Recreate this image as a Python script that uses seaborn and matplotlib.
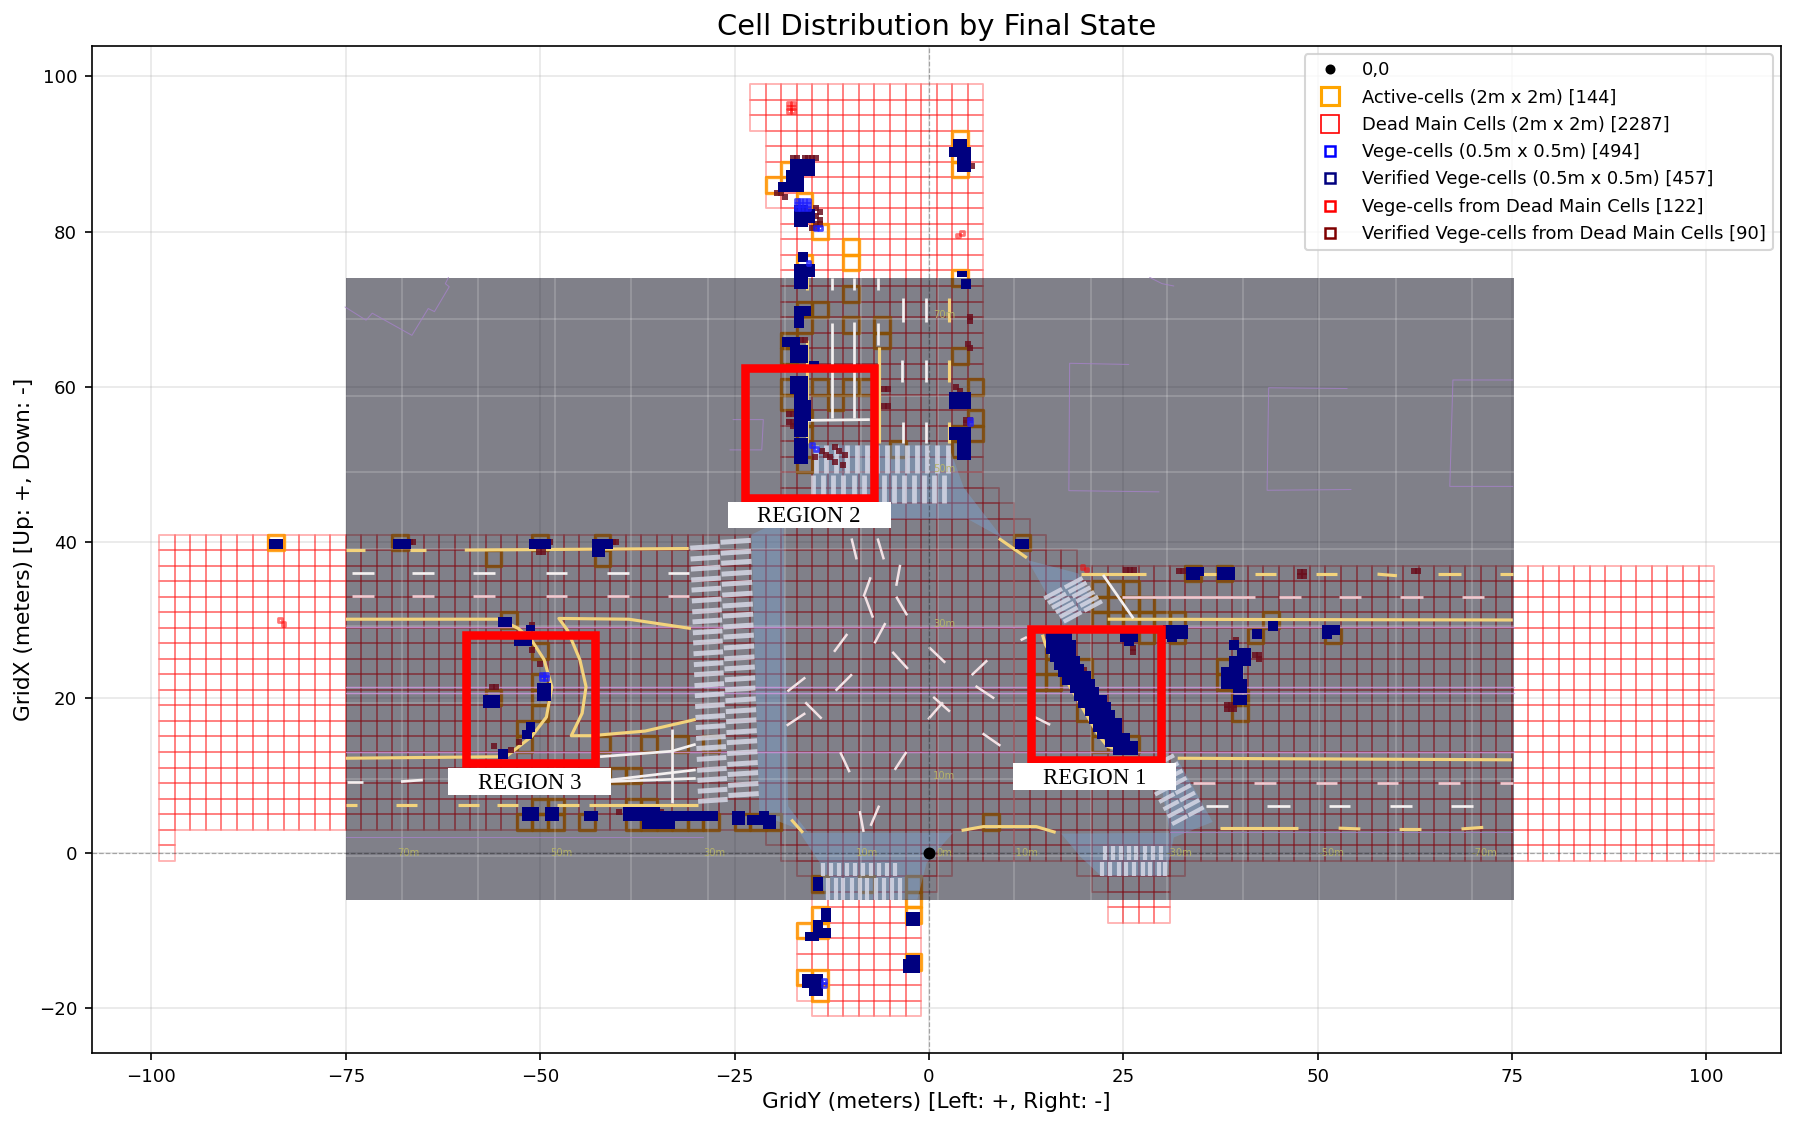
import numpy as np
import matplotlib
matplotlib.use("Agg")
import matplotlib.pyplot as plt
from matplotlib.patches import Rectangle, Polygon
from matplotlib.collections import PatchCollection
from matplotlib.lines import Line2D
import seaborn as sns

# ---------- legend / counts ----------
legend_labels = ["0,0", "Active-cells (2m x 2m) [144]", "Dead Main Cells (2m x 2m) [2287]",
                 "Vege-cells (0.5m x 0.5m) [494]", "Verified Vege-cells (0.5m x 0.5m) [457]",
                 "Vege-cells from Dead Main Cells [122]", "Verified Vege-cells from Dead Main Cells [90]"]

# ---------- dead main cells: blocks of 2 m cells (x0, x1, y0, y1) ----------
dead_blocks = [(-23, 7, 93, 99), (-21, 7, 83, 93), (-19, 7, 47, 83), (-19, 9, 45, 47), (-19, 11, 43, 45),
               (-19, 13, 41, 43), (-99, 15, 39, 41), (-99, 19, 37, 39), (-99, 101, 3, 37), (-21, 101, 1, 3),
               (-99, -97, -1, 3), (-19, 101, -1, 1), (-17, 3, -3, -1), (19, 33, -3, -1), (-15, 1, -5, -3),
               (21, 31, -5, -3), (23, 31, -9, -5), (-15, -1, -9, -5), (-17, -1, -19, -9), (-15, -1, -21, -19)]

# ---------- active cells: lower-left corner ----------
active_x = [3, 3, 3, -21, -19, -17, -15, -11, -11, -17, 3, -11, -17, -15, -17, -11, -7, -7, -19, -19, 3, -19, -19, -15,
            -13, -11, -9, 5, 5, 5, 3, 3, -17, -17, -5, -17, -85, -69, -51, -43, -43, -57, -55, -51, -51, -51, -51, -57,
            -53, -53, -43, -37, -33, -29, -41, -39, -51, -49, -53, -51, -49, -45, -39, -37, -39, -37, -35, -33, -31, -29,
            -25, -23, -21, 11, 33, 37, 21, 23, 25, 21, 25, 27, 21, 23, 25, 27, 29, 31, 43, 41, 31, 51, 27, 15, 15, 13, 15,
            19, 19, 37, 37, 39, 39, 19, 21, 21, 25, -15, -9, -3, -3, -3, -15, -17, -15, -3, -17, -15, -15, 7]
active_y = [91, 89, 87, 85, 87, 83, 79, 77, 75, 75, 73, 71, 69, 69, 67, 67, 67, 65, 65, 63, 63, 59, 57, 59,
            57, 59, 59, 59, 55, 53, 53, 51, 53, 49, 51, 55, 39, 39, 39, 39, 37, 37, 29, 25, 21, 19, 17, 19,
            15, 13, 13, 13, 13, 13, 9, 9, 5, 5, 3, 3, 3, 3, 5, 5, 3, 3, 3, 3, 3, 3,
            3, 3, 3, 39, 35, 35, 33, 33, 33, 31, 31, 31, 29, 29, 29, 29, 29, 29, 29, 27, 27, 27, 27, 25, 23, 21, 21,
            21, 23, 21, 23, 19, 17, 17, 15, 13, 13, -5, -5, -5, -7, -9, -9, -11, -11, -15, -17, -17, -19, 3]

# ---------- verified vege cells: filled patches of 0.5 m cells (x0, x1, y0, y1) ----------
verified_patches = [
    (3.5, 4.5, 91, 91.5), (3, 5, 90, 90.5), (4, 5, 88, 90), (-17.5, -15, 87.5, 89), (-18, -16.5, 85.5, 87.5), (-19, -18.5, 85.5, 86),
    (-17, -16, 81, 83), (-15.5, -15, 81.5, 82.5), (-16.5, -16, 76.5, 77), (-17, -15, 74.5, 75.5), (-17, -16, 73, 74),
    (-17, -15.5, 69.5, 70), (-17, -16.5, 68, 69), (-18.5, -17, 65.5, 66), (-17.5, -16, 63.5, 65), (-15, -14.5, 63, 63),
    (-17.5, -16, 59.5, 61), (-17, -16, 54, 59), (-15.5, -15.5, 56, 58), (-17, -16, 50.5, 53), (4, 4.5, 74.5, 74.5), (4.5, 5, 73, 73.5),
    (3, 5, 57.5, 59), (3, 5, 53.5, 54.5), (4, 5, 51, 53),
    (-84.5, -83.5, 39.5, 40), (-68.5, -67, 39.5, 40), (-51, -49, 39.5, 40), (-43, -41, 39.5, 40), (-43, -42, 38.5, 39),
    (-55, -54, 29.5, 30), (-51.5, -51, 29, 29), (-53, -51.5, 27, 27.5), (-50, -49, 20, 21.5), (-57, -55.5, 19, 20),
    (-51.5, -51, 16, 16.5), (-52, -51.5, 15, 15.5), (-55, -54.5, 12.5, 13),
    (-52, -50.5, 4.5, 5.5), (-49, -48, 4.5, 5.5), (-44, -43, 4.5, 5), (-39, -35, 4.5, 5.5), (-36.5, -33, 3.5, 4.5), (-34.5, -27.5, 4.5, 5),
    (-25, -24, 4, 5), (-23, -20.5, 4, 4.5), (-21.5, -21, 5, 5), (-21, -20, 3.5, 4.5),
    (30.5, 33, 28, 29), (31, 31.5, 27.5, 27.5), (33.5, 35, 36, 36.5), (33.5, 34.5, 35.5, 35.5), (37.5, 39, 35.5, 36.5),
    (44, 44.5, 29, 29.5), (42, 42.5, 28, 28.5), (51, 52.5, 28.5, 29), (51, 51.5, 28, 28.5),
    (39, 39.5, 26.5, 27), (40, 41, 24.5, 26), (39, 40, 24, 25), (38, 40, 21.5, 23.5), (39.5, 40.5, 21, 22), (39.5, 40.5, 19.5, 20),
    (25, 26.5, 27.5, 28), (25.5, 26, 27, 27.5),
    (15.5, 18, 27, 28.5), (15.5, 18.5, 26, 27), (16, 18.5, 25, 26), (16.5, 19, 24, 25), (17, 19.5, 23, 24), (17.5, 20.5, 22, 23), (18.5, 21, 21, 22),
    (19, 21.5, 20, 21), (19.5, 22.5, 19, 20), (20.5, 23, 18, 19), (21, 23.5, 17, 18), (21.5, 24.5, 16, 17), (22, 24.5, 15, 16), (23, 25.5, 14, 15), (24, 26.5, 13, 14),
    (11.5, 12.5, 39.5, 40), (-14.5, -14, -4.5, -3.5), (-13.5, -13, -8.5, -7.5), (-14.5, -14, -9.5, -9), (-14.5, -13, -10.5, -10),
    (-15.5, -14.5, -11, -10.5), (-2.5, -1.5, -9, -8), (-3, -1.5, -15, -14), (-2.5, -1.5, -13.5, -13.5), (-16, -14, -17, -16), (-15, -14, -18, -17.5)]

# unverified vege cells (blue)
vege_x = [-17, -16.5, -16, -15.5, -17, -16.5, -16, -15.5, -17, -16.5, -16, -15.5, -14.5, -14, -15.5, 5.25, 5.25, -13.5, -13.5,
          -49.75, -49.25, -49.75, -49.25, -15, -14.5]
vege_y = [84, 84, 84, 84, 83.5, 83.5, 83.5, 83.5, 83, 83, 83, 83, 80.5, 80.5, 76, 55.8, 55.3, -16.5, -17, 23, 23, 22.5, 22.5, 52.5, 52]

# vege cells from dead main cells (red)
deadvege_x = [-18, -17.5, -18, -17.5, -18, -17.5, 3.75, 4.25, -83.5, -83, 19.75, 20.25]
deadvege_y = [96.5, 96.5, 96, 96, 95.5, 95.5, 79.5, 79.8, 30, 29.5, 36.8, 36.5]

# verified vege cells from dead main cells (maroon)
maroon_x = [-17.5, -17, -16, -15.5, -15, -14.5, -19.5, -19, -18.5, -14.5, -14, -14.5, -14, -14.5, -14, -15, -14.5, 5, 5.5, 5.25, 5.25, 5, 5.25,
            -16.5, -16, -18, -17.5, -17, -18, -17.5, -17.5, -17, -5.75, -5.25, -5.75, -5.25, 3.5, 4, 4.75, 5.25, 4.75,
            -13.8, -12.1, -12.7, -10.8, -14.7, -11, -12.1, -13.2, -11.6,
            -49.25, -48.75, -66.8, -66.3, -40.6, -40.2, -50.1, -49.6, -51, -51, -50, -56.2, -55.7, -52.7, -56, -53.7, -51.3, -39.8, -24.7, -34.4,
            25.4, 25.9, 26.4, 32.2, 32.7, 47.7, 48.2, 47.7, 48.2, 62.4, 62.9, 26.3, 26.3, 39.5, 42, 42.5, 42.5, 38.3, 38.8, 39.3, 38.3, 38.8, 39.3, 20, 23.6]
maroon_y = [89.5, 89.5, 89.5, 89.5, 89.5, 89.5, 85, 85, 84.5, 83, 82.5, 82, 81.5, 81, 81, 80.5, 80.5, 89, 88.5, 69, 68.5, 65.5, 65,
            66, 66, 56.5, 56.5, 56, 55.5, 55.5, 55, 55, 59.7, 59.7, 57.5, 57.5, 60, 59.5, 55.8, 55.8, 55.3,
            51.7, 52.3, 51, 51.2, 51, 50, 50.4, 51.3, 51.7,
            40, 40, 40, 40, 40, 40, 38.7, 38.7, 29.4, 26.1, 24.3, 21.4, 21.4, 14.3, 13.8, 13.3, 5.3, 5.3, 4.5, 5.3,
            36.4, 36.4, 36.4, 36.3, 36.3, 36.2, 36.2, 35.7, 35.7, 36.3, 36.3, 26.4, 25.9, 27.4, 25.5, 25.5, 25, 19, 19, 19, 18.5, 18.5, 18.5, 23.6, 17.5]

# ---------- map overlay ----------
map_extent = (-75, 75.3, -6, 74)
map_grid_x = [-67.8, -58, -48.1, -38.3, -28.4, -18.5, -8.7, 1.15, 11, 20.8, 30.6, 40.4, 50.2, 60.1, 69.9]
map_grid_y = [68.8, 58.9, 49, 39.1, 29.2, 19.3, 9.5, -0.4]
road_polys = [
    [(-22.8, 41), (-18.7, 43), (-18.1, 6), (-15.5, 2.6), (-21.8, 5)],
    [(-16.6, 2.6), (3.1, 2.6), (-0.3, -1.3), (-1.5, -6), (-13.3, -6), (-14, -1.3)],
    [(-14.5, 52.5), (2.5, 52.5), (4.5, 47), (9.5, 40.5), (5, 43), (-18, 43), (-15, 45)],
    [(12.7, 37.7), (19.2, 36), (21.2, 31.9), (17.4, 29.3), (15.3, 33.1)],
    [(32, 12), (36.5, 4), (31.5, 2), (30.5, -3), (22.2, -3), (19.5, -0.5), (17, 2.5), (31, 2.6), (30, 8)],
]
purple_long_y = [29.1, 21.4, 20.6, 13]
purple_paths = [
    [(25.7, 62.9), (18.1, 63.05), (18, 46.65), (29.6, 46.5)],
    [(53.8, 59.8), (43.7, 59.9), (43.5, 46.7), (54.3, 46.8)],
    [(75.1, 60.9), (67.4, 60.9), (67, 47.2), (75.1, 47.2)],
    [(28.4, 74.1), (30, 73.3), (31.5, 73)],
    [(-75.1, 70.3), (-72.4, 68.6), (-71.6, 69.5), (-66.5, 66.65), (-64.4, 70.1), (-63.6, 69.7), (-61.7, 72.9), (-62.2, 73.3), (-61.8, 74.1)],
    [(-25.2, 55.8), (-21.3, 55.8), (-21.5, 51.9), (-25.6, 51.9)],
    [(-75, 2.1), (-29, 2.1)], [(31, 2.7), (75, 2.7)],
]
yellow_paths = [
    [(-75, 39), (-72.5, 39)], [(-66.8, 39), (-64.7, 39)], [(-59.7, 39), (-30.9, 39.2)],
    [(-75, 30.1), (-55.2, 30.1), (-52.8, 28.9), (-51.1, 27.4), (-49.5, 24.9), (-48.5, 21.4), (-49.2, 17.5), (-51.1, 15), (-54.4, 12.4), (-75, 12.2)],
    [(-30.6, 28.9), (-38.6, 30.1), (-47.6, 30.2), (-46.5, 28.7), (-44.9, 24.9), (-44.1, 21.4), (-44.6, 18), (-46, 15.1), (-43.5, 15.1), (-36.5, 15.7), (-30, 17.2)],
    [(-75, 6.2), (-73.6, 6.2)], [(-68.6, 6.2), (-65.8, 6.2)], [(-60.6, 6.2), (-57.9, 6.2)], [(-55.6, 6.2), (-52.9, 6.2)],
    [(-47.9, 6.2), (-45, 6.2)], [(-43.7, 6.2), (-29.7, 6.2)],
    [(19.6, 35.9), (27.9, 35.9)], [(34.5, 35.9), (36.9, 35.9)], [(41.9, 35.9), (44.7, 35.9)], [(49.8, 35.9), (52.5, 35.9)],
    [(57.7, 35.9), (60.2, 35.7)], [(65.5, 35.9), (68.4, 35.9)], [(73.4, 35.9), (75.1, 35.9)],
    [(23, 30.1), (75.1, 30)], [(32, 12.2), (75, 12)],
    [(37.4, 3.2), (47.5, 3.2)], [(52.7, 3.2), (55.5, 3.1)], [(60.5, 3.1), (63.3, 3.1)], [(68.5, 3.1), (71.3, 3.3)],
    [(4.2, 2.9), (7, 3.4), (13.8, 3.4), (16.3, 2.65)],
    [(14.6, 28.1), (15, 26.8), (21.8, 15.2), (23, 13.7), (26, 12.9)],
    [(9, 40.5), (12.6, 38)], [(-17.7, 4.3), (-16.2, 2.6)],
    [(-15.7, 66), (-15.7, 52.8)], [(-15.7, 74), (-15.7, 72.5)], [(-6.4, 65.2), (-6.4, 52.8)],
    [(2.6, 71.4), (2.6, 68.4)], [(2.6, 63.5), (2.6, 60.7)], [(2.6, 55.5), (2.6, 52.8)],
]
white_paths = [
    [(-74.2, 36.1), (-71.4, 36.1)], [(-66.5, 36.1), (-63.6, 36.1)], [(-58.6, 36.1), (-55.8, 36.1)], [(-49.2, 36.1), (-46.5, 36.1)],
    [(-41.4, 36.1), (-38.6, 36.1)], [(-33.5, 36.1), (-30.8, 36.1)],
    [(-42.3, 12.4), (-33.1, 13.1), (-30, 14)], [(-33.1, 16), (-33.1, 6.4)], [(-41, 9.4), (-30, 10.7)], [(-41, 9.2), (-30, 9.6)],
    [(-74.9, 9.2), (-72.8, 9.2)], [(-67.9, 9.2), (-65.1, 9.4)],
    [(22.4, 35.8), (26.3, 30.2)],
    [(35.7, 6.1), (38.5, 6.1)], [(43.5, 6.1), (46.5, 6.1)], [(51.4, 6.1), (54.2, 6.1)], [(59.3, 6.1), (62.2, 6.1)], [(67.2, 6.1), (70, 6.1)],
    [(-12.5, 74), (-12.5, 72.5)], [(-9.6, 74), (-9.6, 72.5)], [(-6.5, 74), (-6.5, 72.5)],
    [(-12.5, 68.2), (-12.5, 56)], [(-9.6, 68.4), (-9.6, 56)], [(-6.5, 68.2), (-6.5, 65.4)], [(-15.6, 55.7), (-7.6, 55.8)],
    [(-3.3, 71.4), (-3.3, 68.4)], [(-0.4, 71.4), (-0.4, 68.4)], [(-3.4, 63.5), (-3.4, 60.7)], [(-0.4, 63.5), (-0.4, 60.7)],
    [(-3.3, 55.5), (-3.3, 52.8)], [(-0.4, 55.5), (-0.4, 52.8)],
]
pink_paths = [
    [(-74.2, 33.1), (-71.4, 33.1)], [(-66.5, 33.1), (-63.6, 33.1)], [(-58.6, 33.1), (-55.8, 33.1)], [(-49.2, 33.1), (-46.5, 33.1)],
    [(-41.4, 33.1), (-38.6, 33.1)], [(-33.5, 33.1), (-30.8, 33.1)],
    [(24.8, 32.9), (41.9, 32.9)], [(45, 32.9), (47.9, 32.9)], [(52.8, 32.9), (55.6, 32.9)], [(60.6, 32.9), (63.6, 32.9)], [(68.6, 32.9), (71.4, 32.9)],
    [(34, 9), (36.8, 9)], [(41.8, 9), (44.7, 9)], [(49.8, 9), (52.5, 9)], [(57.6, 9), (60.4, 9)], [(65.5, 9), (68.3, 9)], [(73.4, 9), (75.1, 9)],
]
junction_paths = [
    [(-9.95, 40.5), (-9.3, 37.8)], [(-6.6, 40.5), (-5.8, 37.8)], [(-3.7, 37.1), (-4.2, 34.4)], [(-7.5, 35.5), (-8.4, 33)], [(-8.2, 33), (-7.2, 30.3)],
    [(-4.2, 33), (-2.8, 30.6)], [(-5.6, 29.6), (-7, 27)], [(-10.5, 28.2), (-12.2, 25.9)], [(-4.7, 25.9), (-2.7, 23.7)], [(0, 26.5), (2.1, 24.5)],
    [(7.5, 24.8), (5.5, 22.9)], [(-9.9, 23), (-12, 20.9)], [(-15.9, 22.6), (-18.2, 20.8)], [(6, 21.5), (8.4, 19.9)], [(0.55, 20.1), (2.7, 18.2)],
    [(1.8, 19.4), (-0.1, 17.2)], [(-15.9, 19.4), (-13.8, 17.3)], [(-15.9, 18), (-18.3, 16.4)], [(13.6, 17.5), (15.6, 16.5)], [(6.9, 15.4), (9.2, 13.8)],
    [(-11.4, 12.97), (-10.2, 10.4)], [(-2.9, 13), (-4.4, 10.7)], [(-8.9, 5.4), (-8.4, 2.7)], [(-6.4, 6.1), (-7.5, 3.5)], [(11.8, 27.4), (12.6, 27.8)],
]
walk_top_upper = [-14.5, -13.2, -11.9, -10.6, -9.3, -8.0, -6.7, -5.4, -4.1, -2.8, -1.5, -0.2, 1.1, 2.4]
walk_top_lower = [-14.9, -13.6, -12.3, -11.0, -9.7, -8.4, -7.1, -5.8, -4.5, -3.2, -1.9, -0.6, 0.7, 2.0]
walk_left_y = [39.4, 38.0, 36.7, 35.3, 34.0, 32.6, 31.2, 29.9, 28.5, 27.2, 25.8, 24.4, 23.1, 21.7, 20.4, 19.0, 17.6, 16.3, 14.9, 13.6, 12.2, 10.8, 9.5, 8.1, 6.8]
walk_bot_upper = [-13.6, -12.6, -11.6, -10.5, -9.5, -8.5, -7.4, -6.4, -5.4, -4.3]
walk_bot_lower = [-13, -12, -11, -9.9, -8.9, -7.9, -6.8, -5.8, -4.8, -3.7]
walk_br_upper = [22.6, 23.7, 24.7, 25.7, 26.7, 27.8, 28.8, 29.9]
walk_br_lower = [22.2, 23.3, 24.4, 25.4, 26.4, 27.5, 28.5, 29.6, 30.4]
walk_ne = [(17.3, 34.1), (17.8, 33.5), (18.3, 32.9), (18.8, 32.3), (19.3, 31.7), (19.8, 31.1)]
walk_se = [(29.5, 11.5), (30.05, 10.5), (30.6, 9.55), (31.1, 8.6), (31.65, 7.65), (32.2, 6.7), (32.75, 5.75), (33.3, 4.8)]
map_text = ["70m", "50m", "30m", "10m", "0m", "-10m", "-30m", "-50m", "-70m", "70m", "50m", "30m", "10m"]
map_text_x = [-67, -47.3, -27.6, -7.9, 2, 12.4, 32.2, 51.8, 71.5, 2, 2, 2, 2]
map_text_y = [0, 0, 0, 0, 0, 0, 0, 0, 0, 69.3, 49.5, 29.5, 9.9]

# ---------- highlighted regions ----------
region_names = ["REGION 1", "REGION 2", "REGION 3"]
region_x = [(13.1, 29.8), (-23.7, -7), (-59.6, -42.9)]
region_y = [(12, 28.8), (45.7, 62.5), (11.6, 28.1)]
label_x = [(10.8, 31.8), (-25.9, -4.9), (-61.9, -40.9)]
label_y = [(8.1, 11.55), (41.9, 45.2), (7.5, 10.9)]

# ---------- figure ----------
sns.set_style("ticks", {"xtick.direction": "out", "ytick.direction": "out"})
plt.rcParams.update({"font.family": ["DejaVu Sans"], "axes.linewidth": 0.8, "xtick.major.size": 3.5, "ytick.major.size": 3.5,
                     "xtick.major.width": 0.8, "ytick.major.width": 0.8, "axes.edgecolor": "black",
                     "xtick.color": "black", "ytick.color": "black", "text.color": "black", "axes.labelcolor": "black"})
W, H, DPI = 1795, 1125, 150
fig = plt.figure(figsize=(W / DPI, H / DPI), dpi=DPI)
ax = fig.add_axes([91.6 / W, 1 - 1053 / H, (1781 - 91.6) / W, (1053 - 46) / H])
ax.set_xlim(-107.7, 109.6)
ax.set_ylim(-25.75, 103.9)
ax.set_xticks(range(-100, 101, 25))
ax.set_yticks(range(-20, 101, 20))
ax.tick_params(labelsize=8.7)
ax.grid(True, color="#b0b0b0", alpha=0.3, lw=0.8, zorder=0)
ax.set_axisbelow(True)

# dead and active cells
dead_rects = []
for x0, x1, y0, y1 in dead_blocks:
    for cx in range(x0, x1, 2):
        for cy in range(y0, y1, 2):
            dead_rects.append(Rectangle((cx, cy), 2, 2))
ax.add_collection(PatchCollection(dead_rects, facecolor="none", edgecolor=(1, 0, 0, 0.3), linewidth=0.9, zorder=2))
active_rects = [Rectangle((cx, cy), 2, 2) for cx, cy in zip(active_x, active_y)]
ax.add_collection(PatchCollection(active_rects, facecolor="none", edgecolor=(1, 0.6, 0, 0.85), linewidth=1.6, zorder=3))

# map overlay
mx0, mx1, my0, my1 = map_extent
ax.add_patch(Rectangle((mx0, my0), mx1 - mx0, my1 - my0, facecolor=(0, 0, 0.07), alpha=0.497, lw=0, zorder=4))
for p in road_polys:
    ax.add_patch(Polygon(p, closed=True, facecolor=(0.48, 0.65, 0.85), alpha=0.38, lw=0, zorder=4.1))
for gx in map_grid_x:
    ax.plot([gx, gx], [my0, my1], color="white", alpha=0.18, lw=0.9, zorder=4.2)
for gy in map_grid_y:
    ax.plot([mx0, mx1], [gy, gy], color="white", alpha=0.18, lw=0.9, zorder=4.2)
for gy in purple_long_y:
    ax.plot([mx0, mx1], [gy, gy], color="#d69ae6", alpha=0.75, lw=0.7, zorder=4.25)
for path in purple_paths:
    xs, ys = zip(*path)
    ax.plot(xs, ys, color="#a582c8", alpha=0.8, lw=0.5, zorder=4.25)

# crosswalks
BAR = {"color": "#d6d8e6", "alpha": 0.85, "solid_capstyle": "butt", "zorder": 4.3}
for bx in walk_top_upper:
    ax.plot([bx, bx], [48.9, 52.5], lw=2.3, **BAR)
for bx in walk_top_lower:
    ax.plot([bx, bx], [45, 48.7], lw=2.3, **BAR)
for by in walk_left_y:
    d = (39.4 - by) * 0.031
    ax.plot([-30.7 + d, -26.9 + d], [by - 0.15, by + 0.1], lw=2.4, **BAR)
    ax.plot([-26.8 + d, -22.9 + d], [by + 0.6, by + 0.85], lw=2.4, **BAR)
for bx in walk_bot_upper:
    ax.plot([bx, bx], [-3, -1.3], lw=2.0, **BAR)
for bx in walk_bot_lower:
    ax.plot([bx, bx], [-6, -3.2], lw=2.0, **BAR)
for bx in walk_br_upper:
    ax.plot([bx, bx], [-0.9, 0.95], lw=2.0, **BAR)
for bx in walk_br_lower:
    ax.plot([bx, bx], [-3, -1.1], lw=2.0, **BAR)
for cx, cy in walk_ne:
    for off in (-1.5, 1.5):
        ox, oy = cx + off * 0.88, cy + off * 0.47
        ax.plot([ox - 1.3 * 0.88, ox + 1.3 * 0.88], [oy - 1.3 * 0.47, oy + 1.3 * 0.47], lw=2.0, **BAR)
for cx, cy in walk_se:
    for off in (-1.2, 1.2):
        ox, oy = cx + off * 0.88, cy + off * 0.47
        ax.plot([ox - 1.1 * 0.88, ox + 1.1 * 0.88], [oy - 1.1 * 0.47, oy + 1.1 * 0.47], lw=2.0, **BAR)

for path in yellow_paths:
    xs, ys = zip(*path)
    ax.plot(xs, ys, color="#f3d37c", lw=1.5, solid_capstyle="butt", zorder=4.4)
for path in white_paths:
    xs, ys = zip(*path)
    ax.plot(xs, ys, color="#f4f0f0", lw=1.3, solid_capstyle="butt", zorder=4.4)
for path in pink_paths:
    xs, ys = zip(*path)
    ax.plot(xs, ys, color="#efc8cf", lw=1.3, solid_capstyle="butt", zorder=4.4)
for path in junction_paths:
    xs, ys = zip(*path)
    ax.plot(xs, ys, color="#f3e2e5", lw=1.2, solid_capstyle="butt", zorder=4.4)
for t, tx, ty in zip(map_text, map_text_x, map_text_y):
    ax.text(tx, ty, t, fontsize=4.8, color="#b5b36a", ha="center", va="center", zorder=4.4)

# axis lines through origin
ax.axhline(0, color="black", lw=0.6, ls="--", alpha=0.3, zorder=4.6)
ax.axvline(0, color="black", lw=0.6, ls="--", alpha=0.3, zorder=4.6)

# vege cells via seaborn
ver_x, ver_y = [], []
for x0, x1, y0, y1 in verified_patches:
    for vx in np.arange(x0, x1 + 0.01, 0.5):
        for vy in np.arange(y0, y1 + 0.01, 0.5):
            ver_x.append(vx)
            ver_y.append(vy)

HOLLOW = dict(marker="s", s=3.0, facecolor="none", linewidth=1.3, legend=False, ax=ax)
FILLED = dict(marker="s", s=10, linewidth=0, legend=False, ax=ax)
sns.scatterplot(x=deadvege_x, y=deadvege_y, edgecolor=(1, 0, 0, 0.55), zorder=5.0, **HOLLOW)
sns.scatterplot(x=maroon_x, y=maroon_y, color="#6a0f1e", alpha=0.85, zorder=5.2, **FILLED)
sns.scatterplot(x=ver_x, y=ver_y, color="#00007f", zorder=5.4, **FILLED)
sns.scatterplot(x=vege_x, y=vege_y, edgecolor=(0.12, 0.12, 1, 0.8), zorder=5.6, **HOLLOW)
sns.scatterplot(x=[0], y=[0], color="black", s=33, linewidth=0, legend=False, ax=ax, zorder=6)

# regions
for (x0, x1), (y0, y1) in zip(region_x, region_y):
    ax.add_patch(Rectangle((x0, y0), x1 - x0, y1 - y0, facecolor="none", edgecolor="#ff0000", lw=4.1, joinstyle="miter", zorder=7))
for name, (x0, x1), (y0, y1) in zip(region_names, label_x, label_y):
    ax.add_patch(Rectangle((x0, y0), x1 - x0, y1 - y0, facecolor="white", edgecolor="none", zorder=7.1))
    ax.text((x0 + x1) / 2, (y0 + y1) / 2 - 0.25, name, family="Liberation Serif", fontsize=11, ha="center", va="center", zorder=7.2)

ax.set_xlabel("GridY (meters) [Left: +, Right: -]", fontsize=10.4, labelpad=3)
ax.set_ylabel("GridX (meters) [Up: +, Down: -]", fontsize=10.4, labelpad=2)
ax.set_title("Cell Distribution by Final State", fontsize=13.85, pad=5.5)

handles = [
    Line2D([], [], ls="none", marker="o", ms=3.8, mfc="black", mec="black"),
    Line2D([], [], ls="none", marker="s", ms=8.5, mfc="none", mec="orange", mew=1.5),
    Line2D([], [], ls="none", marker="s", ms=8.5, mfc="none", mec="red", mew=0.8),
    Line2D([], [], ls="none", marker="s", ms=5, mfc="none", mec="blue", mew=1.2),
    Line2D([], [], ls="none", marker="s", ms=5, mfc="none", mec="#00007f", mew=1.2),
    Line2D([], [], ls="none", marker="s", ms=5, mfc="none", mec="red", mew=1.2),
    Line2D([], [], ls="none", marker="s", ms=5, mfc="none", mec="#7f0000", mew=1.2),
]
leg = ax.legend(handles, legend_labels, loc="upper right", fontsize=8.6, frameon=True, framealpha=0.8,
                edgecolor="#cccccc", fancybox=True, borderaxespad=0.45, labelspacing=0.52)
leg.set_zorder(10)

fig.savefig("out.png", dpi=DPI)
